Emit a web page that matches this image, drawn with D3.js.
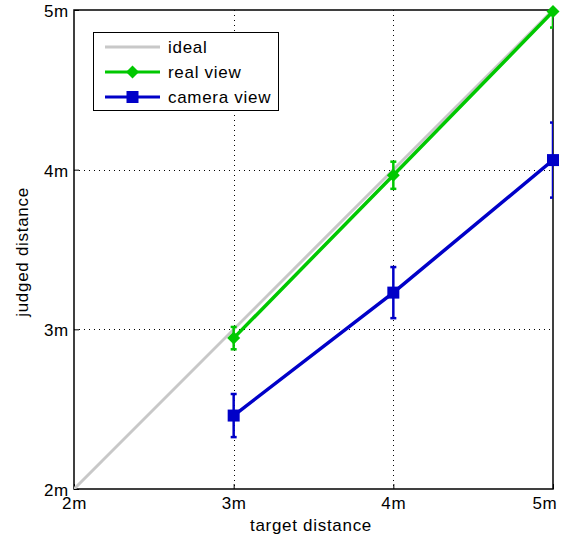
<!DOCTYPE html>
<html><head><meta charset="utf-8">
<script src="https://cdn.jsdelivr.net/npm/d3@7"></script>
<style>body{margin:0;background:#fff}svg{display:block}text{font-family:"Liberation Sans",Arial,sans-serif;letter-spacing:0.7px}</style>
</head><body><svg id="c" width="563" height="535"></svg>
<script>
const targets = [3, 4, 5];
const realMean = [2.945, 3.965, 4.99];
const realErr = [0.07, 0.085, 0.1];
const camMean = [2.46, 3.23, 4.06];
const camErr = [0.135, 0.16, 0.235];
const idealX = [2, 5];
const tickVals = [2, 3, 4, 5];
const tickLabels = ["2m", "3m", "4m", "5m"];

const FS = 17;
const svg = d3.select("#c");
const L = 74, R = 553, T = 10, B = 489;
const x = d3.scaleLinear().domain([2, 5]).range([L, R]);
const y = d3.scaleLinear().domain([2, 5]).range([B, T]);

svg.append("defs").append("clipPath").attr("id","clip").append("rect")
  .attr("x", L).attr("y", T).attr("width", R-L).attr("height", B-T);

// grid
const grid = svg.append("g").attr("stroke","#000").attr("stroke-width",1).attr("stroke-dasharray","1,4");
tickVals.slice(1,3).forEach(v => {
  grid.append("line").attr("x1", Math.round(x(v))+0.5).attr("x2", Math.round(x(v))+0.5).attr("y1", T).attr("y2", B);
  grid.append("line").attr("y1", Math.round(y(v))+0.5).attr("y2", Math.round(y(v))+0.5).attr("x1", L).attr("x2", R);
});

// axes
const fmt = d => tickLabels[tickVals.indexOf(d)];
const ax = svg.append("g").attr("transform",`translate(0,${B})`)
  .call(d3.axisBottom(x).tickValues(tickVals).tickFormat(fmt).tickSizeInner(-5).tickSizeOuter(0).tickPadding(8));
const ay = svg.append("g").attr("transform",`translate(${L},0)`)
  .call(d3.axisLeft(y).tickValues(tickVals).tickFormat(fmt).tickSizeInner(-5).tickSizeOuter(0).tickPadding(5));
[ax, ay].forEach(g => {
  g.select(".domain").remove();
  g.selectAll("text").attr("font-size", FS).attr("fill","#000");
  g.selectAll("line").attr("stroke","#000");
});
ax.selectAll("text").attr("y", 20).attr("dy", null);
ax.selectAll("text").filter(d => d === 5).attr("text-anchor","end").attr("x", 557 - R);
ay.selectAll("text").attr("dy","0.38em");
svg.append("rect").attr("x", L).attr("y", T).attr("width", R-L).attr("height", B-T)
  .attr("fill","none").attr("stroke","#000").attr("stroke-width",1.5);

// labels
svg.append("text").attr("x", 311).attr("y", 531).attr("text-anchor","middle").attr("font-size",FS).text("target distance");
svg.append("text").attr("transform",`translate(28,${252}) rotate(-90)`).attr("text-anchor","middle").attr("font-size",FS).text("judged distance");

const plot = svg.append("g").attr("clip-path","url(#clip)");
const line = d3.line().x(d=>x(d[0])).y(d=>y(d[1]));
const gray = "#c8c8c8", green = "#00c800", blue = "#0000c8";

plot.append("path").datum(idealX.map(v=>[v,v])).attr("d", line).attr("fill","none").attr("stroke",gray).attr("stroke-width",3);

const diamond = h => `M0,${-h}L${h},0L0,${h}L${-h},0Z`;
const square = h => `M${-h},${-h}H${h}V${h}H${-h}Z`;

function series(mean, err, color, shape) {
  const pts = targets.map((t,i)=>[t, mean[i]]);
  plot.append("path").datum(pts).attr("d", line).attr("fill","none").attr("stroke",color).attr("stroke-width",3.5);
  const eb = plot.append("g").attr("stroke", color).attr("stroke-width",2.5);
  targets.forEach((t,i)=>{
    const cx = x(t), y1 = y(mean[i]+err[i]), y2 = y(mean[i]-err[i]);
    eb.append("line").attr("x1",cx).attr("x2",cx).attr("y1",y1).attr("y2",y2);
    eb.append("line").attr("x1",cx-3).attr("x2",cx+3).attr("y1",y1).attr("y2",y1);
    eb.append("line").attr("x1",cx-3).attr("x2",cx+3).attr("y1",y2).attr("y2",y2);
  });
  const d = shape==="sq" ? square(6) : diamond(6.5);
  svg.append("g").selectAll("path").data(pts).join("path")
    .attr("transform", p=>`translate(${x(p[0])},${y(p[1])})`).attr("d", d).attr("fill", color);
}
series(realMean, realErr, green, "di");
series(camMean, camErr, blue, "sq");

// legend
const lg = svg.append("g");
lg.append("rect").attr("x",93.5).attr("y",32.5).attr("width",185).attr("height",78).attr("fill","#fff").attr("stroke","#000").attr("stroke-width",1);
const entries = [["ideal", gray, null], ["real view", green, "di"], ["camera view", blue, "sq"]];
entries.forEach((e,i)=>{
  const yy = 47 + i*25;
  lg.append("line").attr("x1",105).attr("x2",160).attr("y1",yy).attr("y2",yy).attr("stroke",e[1]).attr("stroke-width",3);
  if (e[2]) {
    lg.append("path").attr("transform",`translate(132.5,${yy})`).attr("d", e[2]==="sq"?square(6):diamond(6.5)).attr("fill",e[1]);
  }
  lg.append("text").attr("x",168).attr("y",yy).attr("dy","0.36em").attr("font-size",FS).text(e[0]);
});
</script></body></html>
